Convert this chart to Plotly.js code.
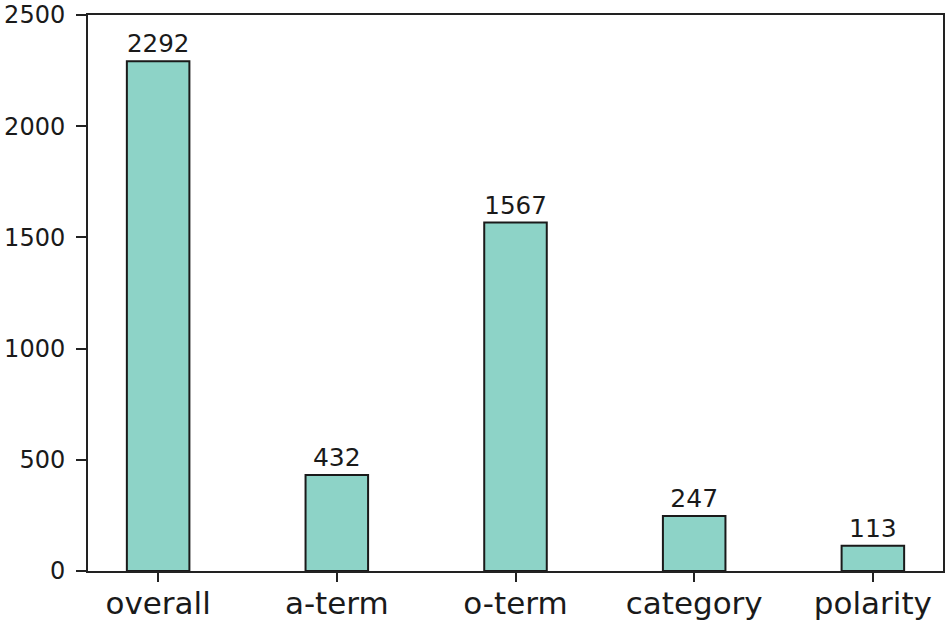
<!DOCTYPE html>
<html>
<head>
<meta charset="utf-8">
<script src="https://cdn.plot.ly/plotly-3.0.1.min.js"></script>
<style>html,body{margin:0;padding:0;background:#fff;}#chart{width:950px;height:626px;}</style>
</head>
<body>
<div id="chart"></div>
<script>
const categories = ["overall", "a-term", "o-term", "category", "polarity"];
const counts = [2292, 432, 1567, 247, 113];
const yTicks = [0, 500, 1000, 1500, 2000, 2500];

const trace = {
  type: "bar",
  x: categories,
  y: counts,
  width: 0.35,
  marker: {color: "#8dd3c7", line: {color: "#1a1a1a", width: 2}},
  text: counts.map(String),
  textposition: "outside",
  textfont: {family: "DejaVu Sans", size: 25, color: "#1a1a1a"},
  cliponaxis: false,
  hoverinfo: "none"
};

const layout = {
  width: 950, height: 626,
  margin: {l: 88, r: 7, t: 15, b: 55},
  paper_bgcolor: "#fff", plot_bgcolor: "#fff",
  showlegend: false,
  font: {family: "DejaVu Sans", color: "#1a1a1a"},
  xaxis: {
    type: "category",
    range: [-0.3925, 4.3925],
    showline: true, linecolor: "#222", linewidth: 2, mirror: true,
    ticks: "outside", ticklen: 9, tickwidth: 2, tickcolor: "#222",
    tickfont: {size: 31, family: "DejaVu Sans", color: "#1a1a1a"},
    ticklabelstandoff: -5,
    showgrid: false, zeroline: false
  },
  yaxis: {
    range: [0, 2500],
    tickvals: yTicks,
    ticktext: yTicks.map(String),
    showline: true, linecolor: "#222", linewidth: 2, mirror: true,
    ticks: "outside", ticklen: 10, tickwidth: 2, tickcolor: "#222",
    tickfont: {size: 24, family: "DejaVu Sans", color: "#1a1a1a"},
    ticklabelstandoff: 6,
    showgrid: false, zeroline: false
  }
};

Plotly.newPlot("chart", [trace], layout, {displayModeBar: false, staticPlot: true});
</script>
</body>
</html>
